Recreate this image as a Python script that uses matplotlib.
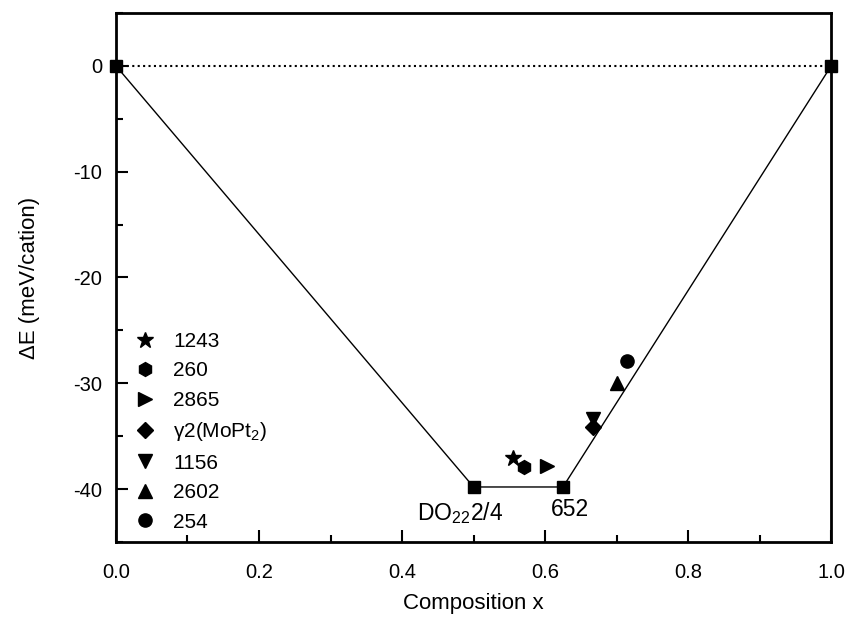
import matplotlib
matplotlib.use("Agg")
import matplotlib.pyplot as plt
from matplotlib.ticker import MultipleLocator

plt.rcParams['font.family'] = ['Liberation Sans', 'DejaVu Sans']
plt.rcParams['axes.unicode_minus'] = False
plt.rcParams['mathtext.fontset'] = 'custom'
plt.rcParams['mathtext.rm'] = 'Liberation Sans'
plt.rcParams['mathtext.it'] = 'Liberation Sans:italic'

# Hull (squares + solid line)
hull_x = [0.0, 0.5, 0.625, 1.0]
hull_y = [0.0, -39.8, -39.8, 0.0]

# Other structures
labels = ['1243', '260', '2865', 'γ2(MoPt$_2$)', '1156', '2602', '254']
markers = ['*', 'h', '>', 'D', 'v', '^', 'o']
sizes = [12, 10, 9.5, 8, 9.5, 9.5, 9.5]
xs = [0.555, 0.571, 0.602, 0.667, 0.667, 0.701, 0.714]
ys = [-37.1, -37.9, -37.8, -34.1, -33.4, -30.0, -27.9]

fig = plt.figure(figsize=(8.49, 6.19), dpi=100)
ax = fig.add_axes([0.1366, 0.1244, 0.8424, 0.8546])

ax.axhline(0, color='black', lw=1.5, ls=(0, (1, 1.6)))
ax.plot(hull_x, hull_y, color='black', lw=1.0, marker='s', ms=8, clip_on=False, zorder=3)

for lab, m, s, x, y in zip(labels, markers, sizes, xs, ys):
    ax.plot([x], [y], ls='none', marker=m, ms=s, color='black', label=lab)

ax.text(0.481, -42.3, 'DO$_{22}$2/4', ha='center', va='center', fontsize=16.5)
ax.text(0.635, -41.9, '652', ha='center', va='center', fontsize=16.5)

ax.set_xlim(0, 1)
ax.set_ylim(-45, 5)
ax.xaxis.set_major_locator(MultipleLocator(0.2))
ax.xaxis.set_minor_locator(MultipleLocator(0.1))
ax.yaxis.set_major_locator(MultipleLocator(10))
ax.yaxis.set_minor_locator(MultipleLocator(5))
ax.tick_params(which='both', direction='in', width=1.5, labelsize=14.5)
ax.tick_params(which='major', length=8.5)
ax.tick_params(which='minor', length=5)
ax.tick_params(axis='x', which='major', pad=15)
ax.tick_params(axis='y', which='major', pad=10)
for sp in ax.spines.values():
    sp.set_linewidth(2)

ax.set_xlabel('Composition x', fontsize=16, labelpad=8)
ax.set_ylabel('ΔE (meV/cation)', fontsize=16, labelpad=24)

leg = ax.legend(loc='upper left', bbox_to_anchor=(134.6 / 849, (619 - 332) / 619),
                bbox_transform=fig.transFigure, frameon=False,
                fontsize=15, handletextpad=0.85, labelspacing=0.5,
                borderaxespad=0, borderpad=0, handlelength=1.0, numpoints=1)

fig.savefig('out.png', dpi=100)
